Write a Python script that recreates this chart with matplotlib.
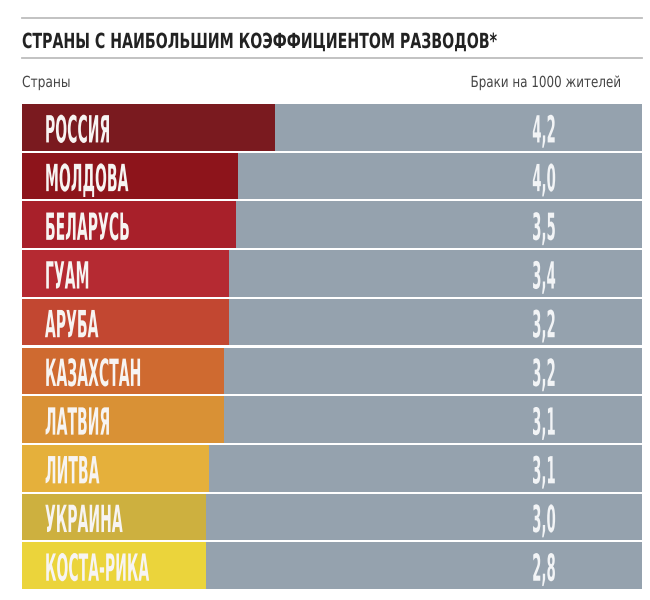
import matplotlib
matplotlib.use("Agg")
import matplotlib.pyplot as plt
from matplotlib.lines import Line2D
from matplotlib.patheffects import AbstractPathEffect
from matplotlib.transforms import Affine2D, blended_transform_factory

# Data.
countries = ["РОССИЯ", "МОЛДОВА", "БЕЛАРУСЬ", "ГУАМ", "АРУБА",
             "КАЗАХСТАН", "ЛАТВИЯ", "ЛИТВА", "УКРАИНА", "КОСТА-РИКА"]
values = [4.2, 4.0, 3.5, 3.4, 3.2, 3.2, 3.1, 3.1, 3.0, 2.8]
# width of the coloured name band, on a scale where the full row is 10
band = [4.08, 3.48, 3.45, 3.34, 3.34, 3.26, 3.26, 3.02, 2.97, 2.97]
full = 10
colors = ["#7A1A1F", "#8D141B", "#A8202A", "#B52A32", "#C24731",
          "#CF6A30", "#D99135", "#E5B03B", "#CDB03F", "#EBD43B"]

title = "СТРАНЫ С НАИБОЛЬШИМ КОЭФФИЦИЕНТОМ РАЗВОДОВ*"
left_head = "Страны"
right_head = "Браки на 1000 жителей"

GRAY = "#95A2AE"
FONT = ["DejaVu Sans"]


# Stretch glyphs upward from the baseline to imitate a condensed display face.
class Stretch(AbstractPathEffect):
  def __init__(self, sy):
    super().__init__()
    self.sy = sy

  def draw_path(self, renderer, gc, tpath, affine, rgbFace=None):
    renderer.draw_path(gc, tpath, Affine2D().scale(1, self.sy) + affine, rgbFace)


W, H = 650, 600
fig = plt.figure(figsize=(W / 100, H / 100), dpi=100)

# Rules and headings.
for yy in (18, 58):
  fig.add_artist(Line2D([22 / W, 642 / W], [1 - yy / H] * 2, color="#BDBDBD", lw=1.3))
fig.text(22 / W, 1 - 48 / H, title, family=FONT, fontweight="bold", fontsize=10.2,
         color="#222222", va="baseline", path_effects=[Stretch(1.47)])
fig.text(22 / W, 1 - 87 / H, left_head, family=FONT, fontsize=8.8,
         color="#444444", va="baseline", path_effects=[Stretch(1.25)])
fig.text(621 / W, 1 - 87 / H, right_head, family=FONT, fontsize=8.6,
         color="#444444", va="baseline", ha="right", path_effects=[Stretch(1.28)])

# Bars.
ax = fig.add_axes([22 / W, 10 / H, 620 / W, 487 / H])
rows = range(len(countries))
ax.barh(rows, [full] * len(countries), height=0.955, color=GRAY)
ax.barh(rows, band, height=0.955, color=colors)
ax.set_xlim(0, full)
ax.set_ylim(len(countries) - 0.5, -0.5)
ax.axis("off")

trans = blended_transform_factory(ax.transAxes, ax.transData)
for i, (name, v) in enumerate(zip(countries, values)):
  ax.text(0.037, i + 0.31, name, transform=trans, family=FONT, fontweight="bold",
          fontsize=10.1, color="#F7F4F2", va="baseline", path_effects=[Stretch(2.67)])
  ax.text(0.842, i + 0.31, f"{v:.1f}".replace(".", ","), transform=trans, family=FONT,
          fontweight="bold", fontsize=9.6, color="#F2F4F6", va="baseline", ha="center",
          path_effects=[Stretch(2.8)])

fig.savefig("out.png", dpi=100, facecolor="white")
